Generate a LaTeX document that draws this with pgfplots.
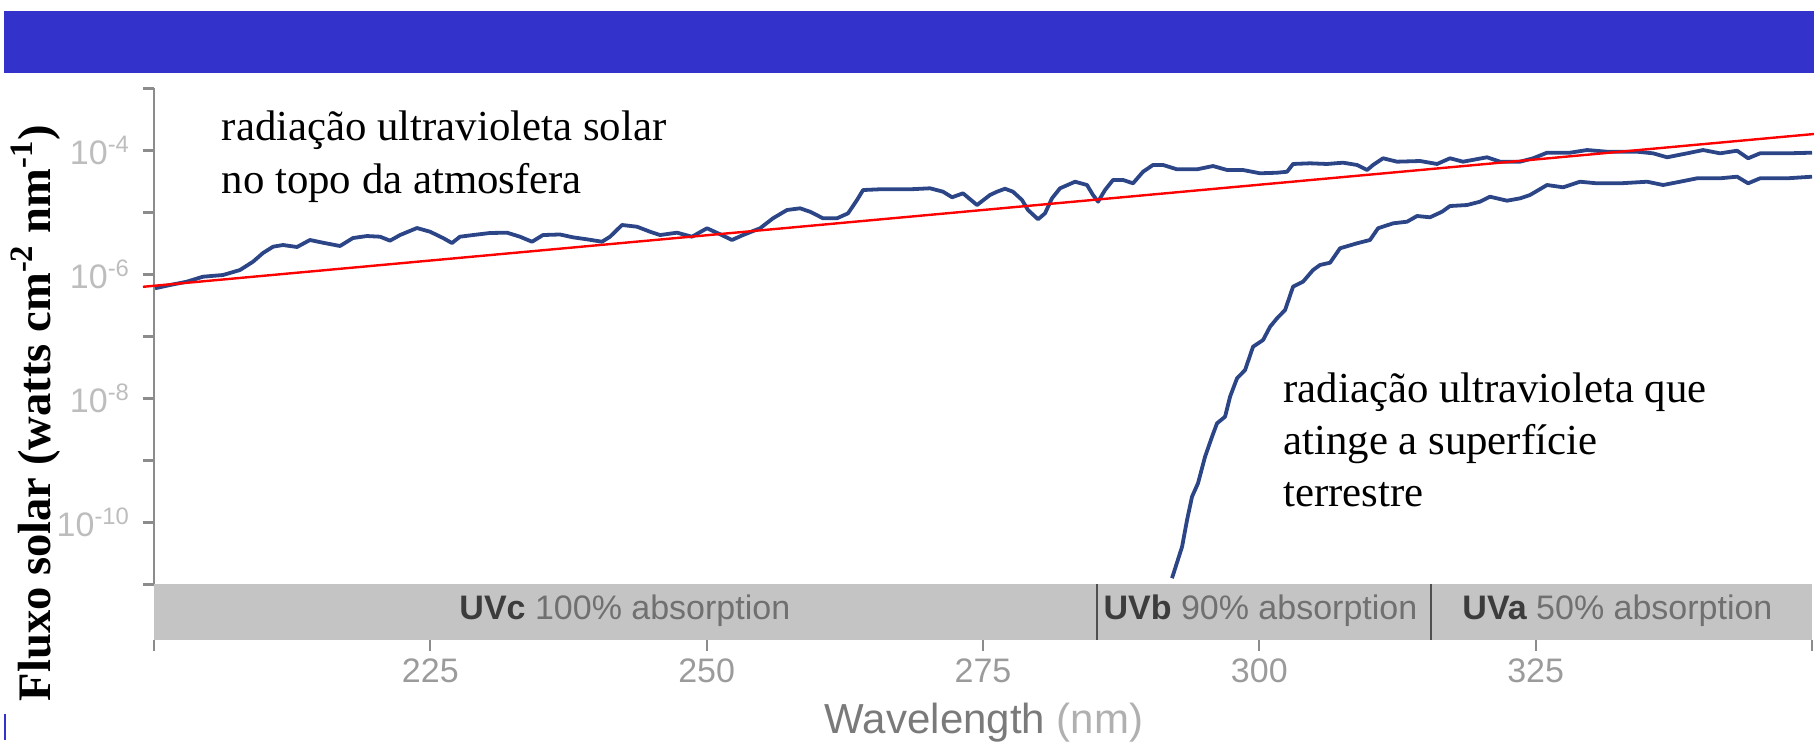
\documentclass[border=0pt]{standalone}
\usepackage{fontspec}
\setmainfont{Liberation Serif}
\newfontfamily\arial{Liberation Sans}
\usepackage{pgfplots}
\pgfplotsset{compat=1.18}
\usepackage{pgfplotstable}
\definecolor{hdrblue}{HTML}{3333CC}
\definecolor{curveblue}{HTML}{2B4587}
\definecolor{bandgray}{HTML}{C4C4C4}
\definecolor{axgray}{HTML}{8C8C8C}
\definecolor{xtickgray}{HTML}{9B9B9B}
\definecolor{ytickgray}{HTML}{BDBDBD}
\definecolor{divgray}{HTML}{505050}
\definecolor{uvdark}{HTML}{3C3C3C}
\definecolor{uvlight}{HTML}{707070}
\definecolor{wavegray}{HTML}{7A7A7A}
\definecolor{nmgray}{HTML}{B0B0B0}

% top-of-atmosphere spectrum: wavelength (nm), log10 flux (W cm^-2 nm^-1)
\pgfplotstableread{
nm lg
200.09 -6.224
201.45 -6.171
202.96 -6.118
204.43 -6.037
206.24 -6.010
207.78 -5.929
208.96 -5.795
209.86 -5.655
210.77 -5.553
211.67 -5.526
212.94 -5.558
214.11 -5.445
215.29 -5.489
216.83 -5.542
218.00 -5.413
219.27 -5.381
220.45 -5.392
221.35 -5.456
222.26 -5.365
223.79 -5.252
224.97 -5.311
226.15 -5.413
226.96 -5.494
227.68 -5.392
228.86 -5.365
230.40 -5.332
231.94 -5.327
233.11 -5.392
234.20 -5.473
235.19 -5.365
236.73 -5.356
237.91 -5.402
239.17 -5.434
240.53 -5.473
241.26 -5.392
242.34 -5.203
243.70 -5.231
244.87 -5.311
245.78 -5.365
247.32 -5.327
248.67 -5.392
250.03 -5.256
251.03 -5.337
252.29 -5.445
253.29 -5.365
254.83 -5.256
256.00 -5.095
257.27 -4.961
258.45 -4.934
259.35 -4.989
260.53 -5.095
261.79 -5.095
262.79 -5.015
263.60 -4.800
264.15 -4.639
265.68 -4.627
268.40 -4.627
270.21 -4.611
271.38 -4.666
272.20 -4.756
273.19 -4.692
274.46 -4.881
275.63 -4.719
276.27 -4.666
276.99 -4.618
277.71 -4.666
278.53 -4.800
279.07 -4.961
279.98 -5.111
280.61 -5.015
281.24 -4.773
281.97 -4.611
283.33 -4.505
284.41 -4.558
284.95 -4.719
285.41 -4.827
286.04 -4.639
286.76 -4.477
287.67 -4.477
288.57 -4.531
289.48 -4.344
290.38 -4.235
291.29 -4.235
292.55 -4.305
294.36 -4.305
295.81 -4.252
297.08 -4.316
298.52 -4.316
300.06 -4.369
301.60 -4.360
302.51 -4.344
303.05 -4.219
304.59 -4.208
306.12 -4.219
307.57 -4.198
308.84 -4.235
309.75 -4.316
310.29 -4.235
311.19 -4.127
312.46 -4.182
314.54 -4.171
316.08 -4.219
317.25 -4.127
318.43 -4.182
320.60 -4.111
321.78 -4.182
323.59 -4.182
324.77 -4.127
326.03 -4.037
328.11 -4.037
329.65 -3.994
331.46 -4.021
334.18 -4.021
335.62 -4.047
336.89 -4.111
338.70 -4.047
340.15 -3.994
341.68 -4.047
343.22 -4.005
344.22 -4.127
345.30 -4.047
347.75 -4.047
350.00 -4.037
}\toacurve

% surface spectrum
\pgfplotstableread{
nm lg
292.10 -10.90
293.01 -10.392
293.46 -9.961
293.91 -9.585
294.45 -9.369
295.09 -8.940
295.72 -8.618
296.17 -8.402
296.90 -8.295
297.35 -7.973
297.98 -7.676
298.71 -7.542
299.43 -7.166
300.34 -7.058
300.97 -6.844
301.60 -6.708
302.33 -6.574
303.05 -6.198
303.95 -6.118
304.86 -5.929
305.49 -5.848
306.40 -5.811
307.30 -5.579
308.84 -5.498
310.01 -5.445
310.74 -5.256
312.10 -5.176
313.36 -5.150
314.27 -5.058
315.44 -5.079
316.53 -4.989
317.25 -4.897
318.79 -4.881
319.97 -4.827
320.87 -4.747
322.41 -4.811
323.59 -4.773
324.49 -4.719
326.03 -4.558
327.48 -4.595
329.02 -4.505
330.55 -4.531
332.63 -4.531
335.08 -4.505
336.53 -4.558
338.06 -4.505
339.60 -4.450
341.68 -4.450
343.22 -4.424
344.22 -4.531
345.30 -4.450
347.75 -4.450
350.00 -4.424
}\surfcurve

\begin{document}
\begin{tikzpicture}
\useasboundingbox (-77pt,-52.9pt) rectangle (830pt,320.1pt);
\begin{axis}[
  scale only axis, width=829pt, height=275.9pt,
  xmin=200, xmax=350, ymin=-11.9, ymax=-3,
  clip=false,
  axis lines*=left,
  axis line style={draw=none},
  xtick={200,225,...,350},
  xticklabels={{},225,250,275,300,325,{}},
  ytick={-11,-10,...,-3},
  yticklabels={{},{10\textsuperscript{-10}},{},{10\textsuperscript{-8}},{},{10\textsuperscript{-6}},{},{10\textsuperscript{-4}},{}},
  tick align=outside,
  major tick length=5.5pt,
  x tick style={draw=axgray, line width=1pt},
  y tick style={draw=axgray, line width=1.3pt},
  xticklabel style={font=\arial\fontsize{17}{17}\selectfont, text=xtickgray},
  yticklabel style={font=\arial\fontsize{17}{17}\selectfont, text=ytickgray, xshift=-3pt},
]
% absorption band
\fill[bandgray] (axis cs:200,-11.9) rectangle (axis cs:350,-11);
\draw[divgray, line width=1pt] (axis cs:285.3,-11.9) -- (axis cs:285.3,-11);
\draw[divgray, line width=1pt] (axis cs:315.5,-11.9) -- (axis cs:315.5,-11);
\draw[axgray, line width=1.3pt] (axis cs:200,-3) -- (axis cs:200,-11);
\node[font=\arial\fontsize{17}{17}\selectfont, text=uvlight] at (axis cs:242.6,-11.43) {\textcolor{uvdark}{\bfseries UVc} 100\% absorption};
\node[font=\arial\fontsize{17}{17}\selectfont, text=uvlight] at (axis cs:300.1,-11.43) {\textcolor{uvdark}{\bfseries UVb} 90\% absorption};
\node[font=\arial\fontsize{17}{17}\selectfont, text=uvlight] at (axis cs:332.4,-11.43) {\textcolor{uvdark}{\bfseries UVa} 50\% absorption};

\addplot[curveblue, line width=1.9pt, line join=round] table[x=nm, y=lg] {\toacurve};
\addplot[curveblue, line width=1.9pt, line join=round] table[x=nm, y=lg] {\surfcurve};
\addplot[red, line width=1.2pt] coordinates {(199,-6.20) (350.2,-3.735)};

\node[anchor=base west, inner sep=0pt, font=\fontsize{21.4}{26}\selectfont] at (axis cs:206.1,-3.84) {radiação ultravioleta solar};
\node[anchor=base west, inner sep=0pt, font=\fontsize{21.4}{26}\selectfont] at (axis cs:206.1,-4.70) {no topo da atmosfera};
\node[anchor=base west, inner sep=0pt, font=\fontsize{21.4}{26}\selectfont] at (axis cs:302.15,-8.07) {radiação ultravioleta que};
\node[anchor=base west, inner sep=0pt, font=\fontsize{21.4}{26}\selectfont] at (axis cs:302.15,-8.91) {atinge a superfície};
\node[anchor=base west, inner sep=0pt, font=\fontsize{21.4}{26}\selectfont] at (axis cs:302.15,-9.75) {terrestre};

% header band and axis label
\fill[hdrblue] (axis cs:186.43,-1.752) rectangle (axis cs:351,-2.752);
\draw[hdrblue, line width=0.8pt] (axis cs:186.52,-13.09) -- (axis cs:186.52,-13.51);
\node[rotate=90, font=\bfseries\fontsize{23.3}{23.3}\selectfont] at (axis cs:189.32,-8.235) {Fluxo solar (watts cm\textsuperscript{-2} nm\textsuperscript{-1})};
\node[anchor=base, inner sep=0pt, font=\arial\fontsize{21}{21}\selectfont] at (axis cs:275.09,-13.405) {\textcolor{wavegray}{Wavelength} \textcolor{nmgray}{(nm)}};
\end{axis}
\end{tikzpicture}
\end{document}
